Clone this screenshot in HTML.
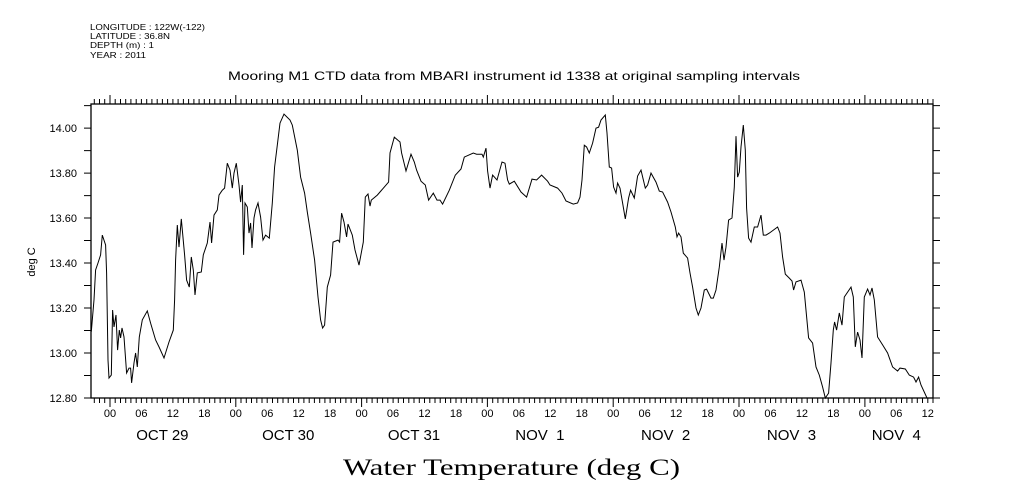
<!DOCTYPE html>
<html><head><meta charset="utf-8"><style>
body{margin:0;background:#fff;}
svg{display:block;font-family:"Liberation Sans",sans-serif;}
</style></head><body>
<svg id="chart" width="1009" height="504" xmlns="http://www.w3.org/2000/svg">
<g font-size="8.5" fill="#000">
<text x="90" y="30" textLength="115" lengthAdjust="spacingAndGlyphs">LONGITUDE : 122W(-122)</text>
<text x="90" y="39" textLength="80" lengthAdjust="spacingAndGlyphs">LATITUDE : 36.8N</text>
<text x="90" y="48" textLength="64" lengthAdjust="spacingAndGlyphs">DEPTH (m) : 1</text>
<text x="90" y="58" textLength="56" lengthAdjust="spacingAndGlyphs">YEAR : 2011</text>
</g>
<text x="228" y="80" textLength="572" lengthAdjust="spacingAndGlyphs" font-size="12">Mooring M1 CTD data from MBARI instrument id 1338 at original sampling intervals</text>
<text transform="translate(35,262) rotate(-90)" text-anchor="middle" font-size="11">deg C</text>
<text x="343" y="475" textLength="337" lengthAdjust="spacingAndGlyphs" font-size="23" font-family="'Liberation Serif',serif">Water Temperature (deg C)</text>
<g id="axes"></g>
<g id="series"></g>
</svg>
<script>
const hours=[-3.57,-3.05,-2.75,-2.29,-1.79,-1.47,-0.84,-0.65,-0.38,-0.19,0.25,0.50,0.76,1.14,1.45,1.77,2.02,2.29,2.67,3.17,3.62,3.93,4.12,4.58,4.88,5.21,5.59,6.16,7.12,7.75,8.70,9.35,10.30,11.26,12.08,12.32,12.51,12.84,13.16,13.60,14.23,14.61,15.13,15.51,15.89,16.22,16.65,17.42,17.80,18.56,19.08,19.38,19.84,20.47,20.79,21.42,21.86,22.38,22.89,23.33,23.66,24.09,24.61,24.91,25.24,25.49,25.75,26.19,26.52,26.82,27.09,27.47,27.78,28.23,28.73,29.19,29.68,30.39,30.96,31.40,31.92,32.43,33.19,34.34,34.78,35.73,36.36,37.12,37.64,38.27,39.03,39.68,40.18,40.56,40.94,41.45,42.08,42.54,43.50,43.80,44.18,44.64,45.14,45.40,46.22,46.74,47.50,48.32,48.70,49.22,49.60,49.85,50.99,53.15,53.41,54.24,55.32,55.63,56.47,57.42,58.05,58.49,59.33,60.15,60.78,61.68,62.38,62.95,63.45,64.73,65.87,66.96,67.59,69.31,69.94,70.97,71.21,71.73,72.03,72.49,72.99,73.83,74.78,75.35,75.85,76.17,77.13,78.41,79.47,80.50,81.38,82.34,83.48,83.94,85.39,86.23,86.99,88.39,89.20,89.66,90.04,90.48,90.92,91.43,92.06,92.71,93.21,93.67,94.49,94.81,95.25,95.69,96.07,96.53,96.83,97.29,97.79,98.30,98.93,99.31,100.02,100.65,101.30,102.12,102.56,103.20,104.16,104.79,105.42,106.37,107.02,107.84,108.17,108.47,108.93,109.37,110.19,110.65,111.14,111.79,112.23,112.74,113.37,113.81,114.65,115.09,115.61,116.24,116.75,117.13,117.51,118.01,118.66,119.10,119.42,119.73,120.05,120.37,120.81,121.19,121.44,121.82,122.28,122.91,123.54,124.19,124.63,125.14,125.77,127.36,127.81,128.31,128.82,129.59,130.10,130.41,130.87,131.82,132.45,133.27,134.03,134.68,135.31,135.94,136.46,137.09,137.54,137.98,138.23,138.61,139.13,139.64,140.08,141.36,141.80,142.18,142.62,143.08,143.46,143.90,144.53,144.99,145.37,145.81,146.43,147.39,148.34,149.29,150.25,150.70,151.71,152.48,153.30,153.76,154.25,154.71,155.86];
const temps=[13.095,13.236,13.369,13.40,13.436,13.524,13.48,13.356,12.969,12.889,12.902,13.191,13.116,13.169,13.013,13.102,13.067,13.111,13.071,12.911,12.933,12.933,12.867,12.956,13.0,12.938,13.071,13.147,13.187,13.133,13.058,13.027,12.978,13.049,13.102,13.236,13.413,13.569,13.471,13.596,13.436,13.324,13.293,13.427,13.369,13.258,13.356,13.36,13.436,13.489,13.582,13.489,13.613,13.636,13.702,13.724,13.733,13.844,13.813,13.733,13.80,13.844,13.747,13.671,13.747,13.436,13.667,13.649,13.533,13.578,13.467,13.60,13.636,13.667,13.604,13.502,13.524,13.511,13.667,13.827,13.924,14.022,14.062,14.036,14.013,13.902,13.782,13.711,13.627,13.533,13.413,13.249,13.147,13.111,13.124,13.293,13.347,13.493,13.502,13.493,13.622,13.582,13.516,13.573,13.524,13.458,13.391,13.493,13.693,13.707,13.653,13.68,13.702,13.76,13.889,13.96,13.938,13.889,13.809,13.884,13.849,13.813,13.764,13.747,13.68,13.711,13.68,13.68,13.662,13.724,13.791,13.818,13.871,13.889,13.884,13.884,13.871,13.911,13.809,13.733,13.791,13.769,13.849,13.844,13.769,13.751,13.764,13.716,13.693,13.773,13.769,13.791,13.764,13.747,13.733,13.711,13.676,13.662,13.667,13.693,13.769,13.924,13.916,13.889,13.933,14.0,14.004,14.036,14.058,13.978,13.827,13.822,13.738,13.711,13.756,13.733,13.667,13.596,13.689,13.724,13.689,13.787,13.813,13.733,13.747,13.80,13.76,13.72,13.716,13.671,13.627,13.56,13.516,13.533,13.516,13.444,13.422,13.356,13.293,13.20,13.169,13.20,13.28,13.284,13.244,13.244,13.28,13.382,13.489,13.413,13.471,13.591,13.60,13.738,13.964,13.782,13.804,13.916,14.013,13.902,13.644,13.511,13.493,13.56,13.56,13.613,13.524,13.524,13.533,13.56,13.533,13.427,13.351,13.333,13.32,13.28,13.316,13.324,13.271,13.067,13.044,12.938,12.902,12.849,12.80,12.822,12.956,13.102,13.138,13.102,13.178,13.124,13.249,13.293,13.249,13.027,13.093,13.058,12.978,13.249,13.284,13.258,13.289,13.236,13.071,13.036,13.0,12.938,12.92,12.933,12.929,12.902,12.893,12.871,12.893,12.858,12.80];
const yTickLabels=["12.80","13.00","13.20","13.40","13.60","13.80","14.00"];
const hourTickLabels=["00","06","12","18"];
const dayLabels=["OCT 29","OCT 30","OCT 31","NOV  1","NOV  2","NOV  3","NOV  4"];
const dayLabelHours=[10,34,58,82,106,130,150];

const L=91,R=933,T=104,B=398;
const H0=-3.62,H1=157.0;
const Y0=12.8,Y1=14.107;
const xs=h=>L+(h-H0)/(H1-H0)*(R-L);
const ys=v=>B-(v-Y0)/(Y1-Y0)*(B-T);
const NS="http://www.w3.org/2000/svg";
function mk(tag,attrs,parent){const e=document.createElementNS(NS,tag);for(const k in attrs)e.setAttribute(k,attrs[k]);parent.appendChild(e);return e;}
const ax=document.getElementById('axes');
const frame=mk('rect',{x:L,y:T,width:R-L,height:B-T,fill:'none',stroke:'#000','stroke-width':1.3},ax);


let d='';
for(let h=Math.ceil(H0);h<=H1;h++){
  const x=xs(h).toFixed(1);const len=((h%24)+24)%24===0?9:5;
  d+=`M${x} ${B}v${len}M${x} ${T}v${-len}`;
}
for(let v=12.8;v<=14.101;v+=0.1){const y=ys(v).toFixed(1);d+=`M${L} ${y}h-7M${R} ${y}h7`;}
const ticks=mk('path',{d:d,stroke:'#000','stroke-width':1,fill:'none'},ax);


yTickLabels.forEach(s=>{
  const t=mk('text',{x:77,y:ys(parseFloat(s))+4,'text-anchor':'end','font-size':11},ax);t.textContent=s;
  
  
});
for(let h=0;h<=H1;h+=6){
  const t=mk('text',{x:xs(h),y:417,'text-anchor':'middle','font-size':11},ax);
  t.textContent=hourTickLabels[(h/6)%4];
  
  
}
dayLabels.forEach((s,i)=>{
  const t=mk('text',{x:xs(dayLabelHours[i]),y:440,'text-anchor':'middle','font-size':15},ax);
  t.style.whiteSpace='pre';
  t.textContent=s;
  
  
});
const pts=hours.map((h,i)=>xs(h).toFixed(1)+','+ys(temps[i]).toFixed(1)).join(' ');
const line=mk('polyline',{points:pts,fill:'none',stroke:'#000','stroke-width':1,'stroke-linejoin':'miter'},document.getElementById('series'));


</script>
</body></html>
